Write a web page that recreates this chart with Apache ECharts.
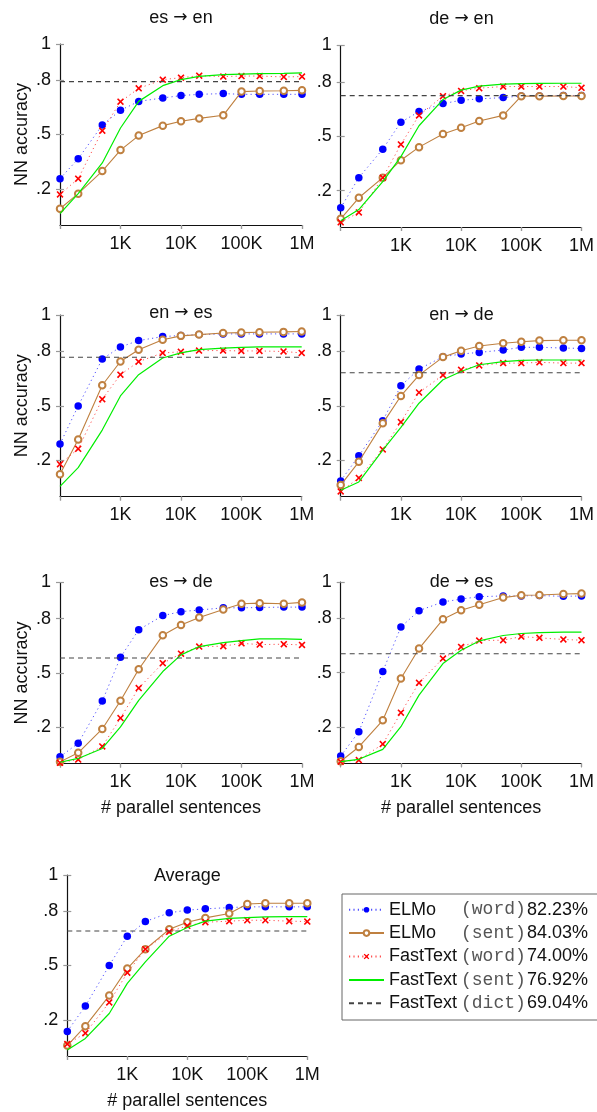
<!DOCTYPE html>
<html><head><meta charset="utf-8">
<script src="https://cdn.jsdelivr.net/npm/echarts@6/dist/echarts.min.js"></script>
<style>html,body{margin:0;padding:0;background:#fff}#c{width:597px;height:1112px}</style>
</head><body><div id="c"></div><script>
// x values: number of parallel sentences
const sentences = [100, 200, 500, 1000, 2000, 5000, 10000, 20000, 50000, 100000, 200000, 500000, 1000000];
const panelTitles = [['es', 'en'], ['de', 'en'], ['en', 'es'], ['en', 'de'], ['es', 'de'], ['de', 'es'], ['Average']];
const seriesNames = ['ELMo (word)', 'ELMo (sent)', 'FastText (word)', 'FastText (sent)', 'FastText (dict)'];
const legendScores = ['82.23%', '84.03%', '74.00%', '76.92%', '69.04%'];
const yTickValues = [0.2, 0.5, 0.8, 1];

// es -> en
const esEnElmoWord = [0.256, 0.366, 0.552, 0.634, 0.683, 0.702, 0.715, 0.722, 0.726, 0.722, 0.722, 0.722, 0.722];
const esEnElmoSent = [0.090, 0.173, 0.298, 0.414, 0.494, 0.549, 0.573, 0.589, 0.606, 0.737, 0.740, 0.742, 0.744];
const esEnFtWord   = [0.169, 0.256, 0.521, 0.681, 0.755, 0.803, 0.814, 0.825, 0.820, 0.823, 0.823, 0.818, 0.820];
const esEnFtSent   = [0.063, 0.173, 0.343, 0.536, 0.683, 0.770, 0.803, 0.821, 0.831, 0.834, 0.836, 0.838, 0.840];
const esEnDict = 0.792;
// de -> en
const deEnElmoWord = [0.106, 0.272, 0.429, 0.577, 0.636, 0.680, 0.698, 0.706, 0.713, 0.722, 0.722, 0.724, 0.724];
const deEnElmoSent = [0.045, 0.161, 0.272, 0.368, 0.440, 0.512, 0.547, 0.584, 0.615, 0.721, 0.721, 0.722, 0.722];
const deEnFtWord   = [0.026, 0.080, 0.272, 0.455, 0.615, 0.721, 0.750, 0.765, 0.774, 0.774, 0.774, 0.774, 0.767];
const deEnFtSent   = [0.034, 0.096, 0.250, 0.388, 0.558, 0.702, 0.754, 0.776, 0.787, 0.790, 0.791, 0.792, 0.792];
const deEnDict = 0.724;
// en -> es
const enEsElmoWord = [0.289, 0.499, 0.757, 0.824, 0.859, 0.881, 0.887, 0.892, 0.896, 0.896, 0.896, 0.896, 0.896];
const enEsElmoSent = [0.122, 0.314, 0.613, 0.744, 0.809, 0.864, 0.885, 0.892, 0.901, 0.903, 0.905, 0.907, 0.909];
const enEsFtWord   = [0.178, 0.263, 0.536, 0.671, 0.743, 0.791, 0.797, 0.804, 0.804, 0.802, 0.802, 0.799, 0.791];
const enEsFtSent   = [0.056, 0.159, 0.366, 0.554, 0.671, 0.763, 0.791, 0.809, 0.818, 0.822, 0.824, 0.824, 0.824];
const enEsDict = 0.767;
// en -> de
const enDeElmoWord = [0.086, 0.224, 0.418, 0.610, 0.702, 0.770, 0.785, 0.794, 0.807, 0.822, 0.822, 0.818, 0.816];
const enDeElmoSent = [0.063, 0.191, 0.403, 0.554, 0.669, 0.768, 0.803, 0.829, 0.844, 0.853, 0.859, 0.861, 0.861];
const enDeFtWord   = [0.028, 0.102, 0.259, 0.410, 0.573, 0.669, 0.698, 0.722, 0.735, 0.735, 0.739, 0.735, 0.735];
const enDeFtSent   = [0.034, 0.080, 0.255, 0.381, 0.514, 0.643, 0.689, 0.726, 0.743, 0.750, 0.752, 0.752, 0.752];
const enDeDict = 0.682;
// es -> de
const esDeElmoWord = [0.037, 0.112, 0.345, 0.587, 0.739, 0.817, 0.839, 0.848, 0.860, 0.860, 0.862, 0.864, 0.864];
const esDeElmoSent = [0.009, 0.059, 0.191, 0.347, 0.521, 0.708, 0.765, 0.807, 0.851, 0.883, 0.886, 0.883, 0.890];
const esDeFtWord   = [0.004, 0.022, 0.094, 0.251, 0.417, 0.554, 0.607, 0.646, 0.648, 0.664, 0.657, 0.659, 0.655];
const esDeFtSent   = [0.007, 0.028, 0.083, 0.202, 0.349, 0.508, 0.600, 0.646, 0.668, 0.679, 0.688, 0.688, 0.686];
const esDeDict = 0.583;
// de -> es
const deEsElmoWord = [0.040, 0.174, 0.506, 0.752, 0.842, 0.890, 0.906, 0.919, 0.923, 0.923, 0.925, 0.921, 0.923];
const deEsElmoSent = [0.011, 0.090, 0.237, 0.468, 0.633, 0.794, 0.844, 0.875, 0.914, 0.927, 0.928, 0.934, 0.936];
const deEsFtWord   = [0.009, 0.018, 0.106, 0.279, 0.444, 0.578, 0.642, 0.677, 0.679, 0.699, 0.692, 0.683, 0.679];
const deEsFtSent   = [0.009, 0.022, 0.077, 0.202, 0.376, 0.550, 0.624, 0.675, 0.705, 0.716, 0.721, 0.723, 0.723];
const deEsDict = 0.604;
// Average
const avgElmoWord = [0.136, 0.276, 0.500, 0.662, 0.743, 0.791, 0.806, 0.813, 0.820, 0.824, 0.824, 0.824, 0.824];
const avgElmoSent = [0.058, 0.165, 0.334, 0.483, 0.590, 0.700, 0.739, 0.763, 0.787, 0.840, 0.844, 0.844, 0.844];
const avgFtWord   = [0.066, 0.126, 0.296, 0.460, 0.590, 0.686, 0.719, 0.739, 0.745, 0.750, 0.750, 0.745, 0.743];
const avgFtSent   = [0.033, 0.097, 0.235, 0.401, 0.520, 0.662, 0.710, 0.745, 0.760, 0.765, 0.769, 0.770, 0.770];
const avgDict = 0.691;

const panelData = [
  [esEnElmoWord, esEnElmoSent, esEnFtWord, esEnFtSent, esEnDict],
  [deEnElmoWord, deEnElmoSent, deEnFtWord, deEnFtSent, deEnDict],
  [enEsElmoWord, enEsElmoSent, enEsFtWord, enEsFtSent, enEsDict],
  [enDeElmoWord, enDeElmoSent, enDeFtWord, enDeFtSent, enDeDict],
  [esDeElmoWord, esDeElmoSent, esDeFtWord, esDeFtSent, esDeDict],
  [deEsElmoWord, deEsElmoSent, deEsFtWord, deEsFtSent, deEsDict],
  [avgElmoWord, avgElmoSent, avgFtWord, avgFtSent, avgDict]
];

// layout (pixels)
const layout = [
  {left: 60, top: 44, width: 242, height: 181, titleTop: 9, yName: true, xName: false},
  {left: 340.7, top: 45.5, width: 241.6, height: 181.5, titleTop: 10, yName: false, xName: false},
  {left: 60, top: 315, width: 241.7, height: 181.5, titleTop: 304, yName: true, xName: false},
  {left: 340.7, top: 315, width: 241.6, height: 181.5, titleTop: 306, yName: false, xName: false},
  {left: 60, top: 582.5, width: 242, height: 181, titleTop: 573, yName: true, xName: true},
  {left: 340.7, top: 582, width: 241.6, height: 181.3, titleTop: 573, yName: false, xName: true},
  {left: 67.3, top: 875, width: 240, height: 181, titleTop: 867, yName: false, xName: true}
];

const FONT = '"Liberation Sans", Arial, Helvetica, sans-serif';
const MONO = '"Liberation Mono", "DejaVu Sans Mono", monospace';
const ARROW_FONT = '"DejaVu Sans", sans-serif';
const crossPath = 'path://M0,1.6L1.6,0L5,3.4L8.4,0L10,1.6L6.6,5L10,8.4L8.4,10L5,6.6L1.6,10L0,8.4L3.4,5Z';

const styles = [
  {color: '#0000ff', lineStyle: {color: '#3333ff', width: 1, type: [1.2, 3.2], opacity: 0.85}, symbol: 'circle', symbolSize: 7.5, itemStyle: {color: '#0000ff'}},
  {color: '#bf8040', lineStyle: {color: '#bf8040', width: 1.1, type: 'solid'}, symbol: 'emptyCircle', symbolSize: 6.5, itemStyle: {color: '#bf8040', borderColor: '#bf8040', borderWidth: 1}},
  {color: '#ff0000', lineStyle: {color: '#ff3333', width: 1, type: [1.2, 3.2], opacity: 0.85}, symbol: crossPath, symbolSize: 7, itemStyle: {color: '#ff0000'}},
  {color: '#00ff00', lineStyle: {color: '#00ee00', width: 1.2, type: 'solid'}, symbol: 'none', symbolSize: 0, itemStyle: {color: '#00ff00'}},
  {color: '#333333', lineStyle: {color: '#444444', width: 1.1, type: [5, 4]}, symbol: 'none', symbolSize: 0, itemStyle: {color: '#333333'}}
];

const grid = [], xAxis = [], yAxis = [], series = [], title = [];
const tickStyle = {color: '#999999', width: 1.2};
const xFmt = v => { const r = Math.round(v); if (r >= 1e6) return Math.round(r / 1e6) + 'M'; if (r >= 1e3) return Math.round(r / 1e3) + 'K'; return ''; };
const yFmt = v => v >= 1 ? '1' : String(v).replace(/^0/, '');

layout.forEach((p, i) => {
  grid.push({left: p.left, top: p.top, width: p.width, height: p.height, containLabel: false});
  const t = panelTitles[i];
  const text = t.length === 2 ? '{t|' + t[0] + ' }{r|\u2192}{t| ' + t[1] + '}' : '{t|' + t[0] + '}';
  title.push({text: text, left: p.left + p.width / 2, top: p.titleTop, textAlign: 'center', padding: 0,
    textStyle: {fontFamily: FONT, fontSize: 18, fontWeight: 'normal', color: '#111',
      rich: {t: {fontFamily: FONT, fontSize: 18, color: '#111'}, r: {fontFamily: ARROW_FONT, fontSize: 17, color: '#111'}}}});
  const xBase = {type: 'log', logBase: 10, min: 100, max: 1000000, splitNumber: 4, gridIndex: i, splitLine: {show: false}};
  xAxis.push(Object.assign({}, xBase, {
    axisLine: {show: true, lineStyle: {color: '#111', width: 1.2}},
    axisTick: {show: true, inside: false, length: 4, lineStyle: tickStyle},
    axisLabel: {show: true, margin: 10, formatter: xFmt, fontFamily: FONT, fontSize: 18, color: '#111'},
    name: p.xName ? '# parallel sentences' : '', nameLocation: 'middle', nameGap: 36,
    nameTextStyle: {fontFamily: FONT, fontSize: 18, color: '#111'}
  }));
  xAxis.push(Object.assign({}, xBase, {
    axisLine: {show: false}, axisTick: {show: true, inside: true, length: 4, lineStyle: tickStyle}, axisLabel: {show: false}
  }));
  const yBase = {type: 'value', min: 0, max: 1, gridIndex: i, position: 'left', offset: 0, splitLine: {show: false}};
  yAxis.push(Object.assign({}, yBase, {
    axisLine: {show: true, lineStyle: {color: '#111', width: 1.2}},
    axisTick: {show: true, inside: false, length: 4, customValues: yTickValues, lineStyle: tickStyle},
    axisLabel: {show: true, margin: 9, customValues: yTickValues, formatter: yFmt, fontFamily: FONT, fontSize: 18, color: '#111'},
    name: p.yName ? 'NN accuracy' : '', nameLocation: 'middle', nameGap: 29,
    nameTextStyle: {fontFamily: FONT, fontSize: 18, color: '#111'}
  }));
  yAxis.push(Object.assign({}, yBase, {
    axisLine: {show: false}, axisTick: {show: true, inside: true, length: 4, customValues: yTickValues, lineStyle: tickStyle},
    axisLabel: {show: false}
  }));
  const d = panelData[i];
  for (let s = 0; s < 5; s++) {
    const st = styles[s];
    const values = s < 4 ? sentences.map((x, j) => [x, d[s][j]]) : [[sentences[0], d[4]], [sentences[sentences.length - 1], d[4]]];
    series.push({
      name: seriesNames[s], type: 'line', xAxisIndex: 2 * i, yAxisIndex: 2 * i, data: values,
      color: st.color, lineStyle: st.lineStyle, symbol: st.symbol, symbolSize: st.symbolSize,
      itemStyle: st.itemStyle, showSymbol: st.symbol !== 'none', silent: true, z: 2 + s
    });
  }
});

const nameParts = {
  'ELMo (word)': ['ELMo', '(word)'], 'ELMo (sent)': ['ELMo', '(sent)'],
  'FastText (word)': ['FastText', '(word)'], 'FastText (sent)': ['FastText', '(sent)'], 'FastText (dict)': ['FastText', '(dict)']
};

const legendData = seriesNames.map((n, k) => k >= 3 ? {name: n, itemStyle: {opacity: 0}} : {name: n});

const chart = echarts.init(document.getElementById('c'), null, {renderer: 'canvas'});
chart.setOption({
  animation: false,
  backgroundColor: '#ffffff',
  title, grid, xAxis, yAxis, series,
  legend: {
    data: legendData, orient: 'vertical', left: 342, top: 894, selectedMode: false,
    itemWidth: 35, itemHeight: 7, itemGap: 0, padding: [4, 10, 5, 6],
    borderColor: '#666', borderWidth: 1, backgroundColor: '#fff',
    formatter: name => '{a|' + nameParts[name][0] + '}{b|' + nameParts[name][1] + '}{c|' + legendScores[seriesNames.indexOf(name)] + '}',
    textStyle: {
      fontFamily: FONT, fontSize: 18, color: '#111', lineHeight: 23.4,
      rich: {
        a: {fontFamily: FONT, fontSize: 18, color: '#111', width: 72, lineHeight: 23.4},
        b: {fontFamily: MONO, fontSize: 18, color: '#555', width: 66, lineHeight: 23.4},
        c: {fontFamily: FONT, fontSize: 18, color: '#111', width: 61, lineHeight: 23.4}
      }
    }
  }
});
</script></body></html>
